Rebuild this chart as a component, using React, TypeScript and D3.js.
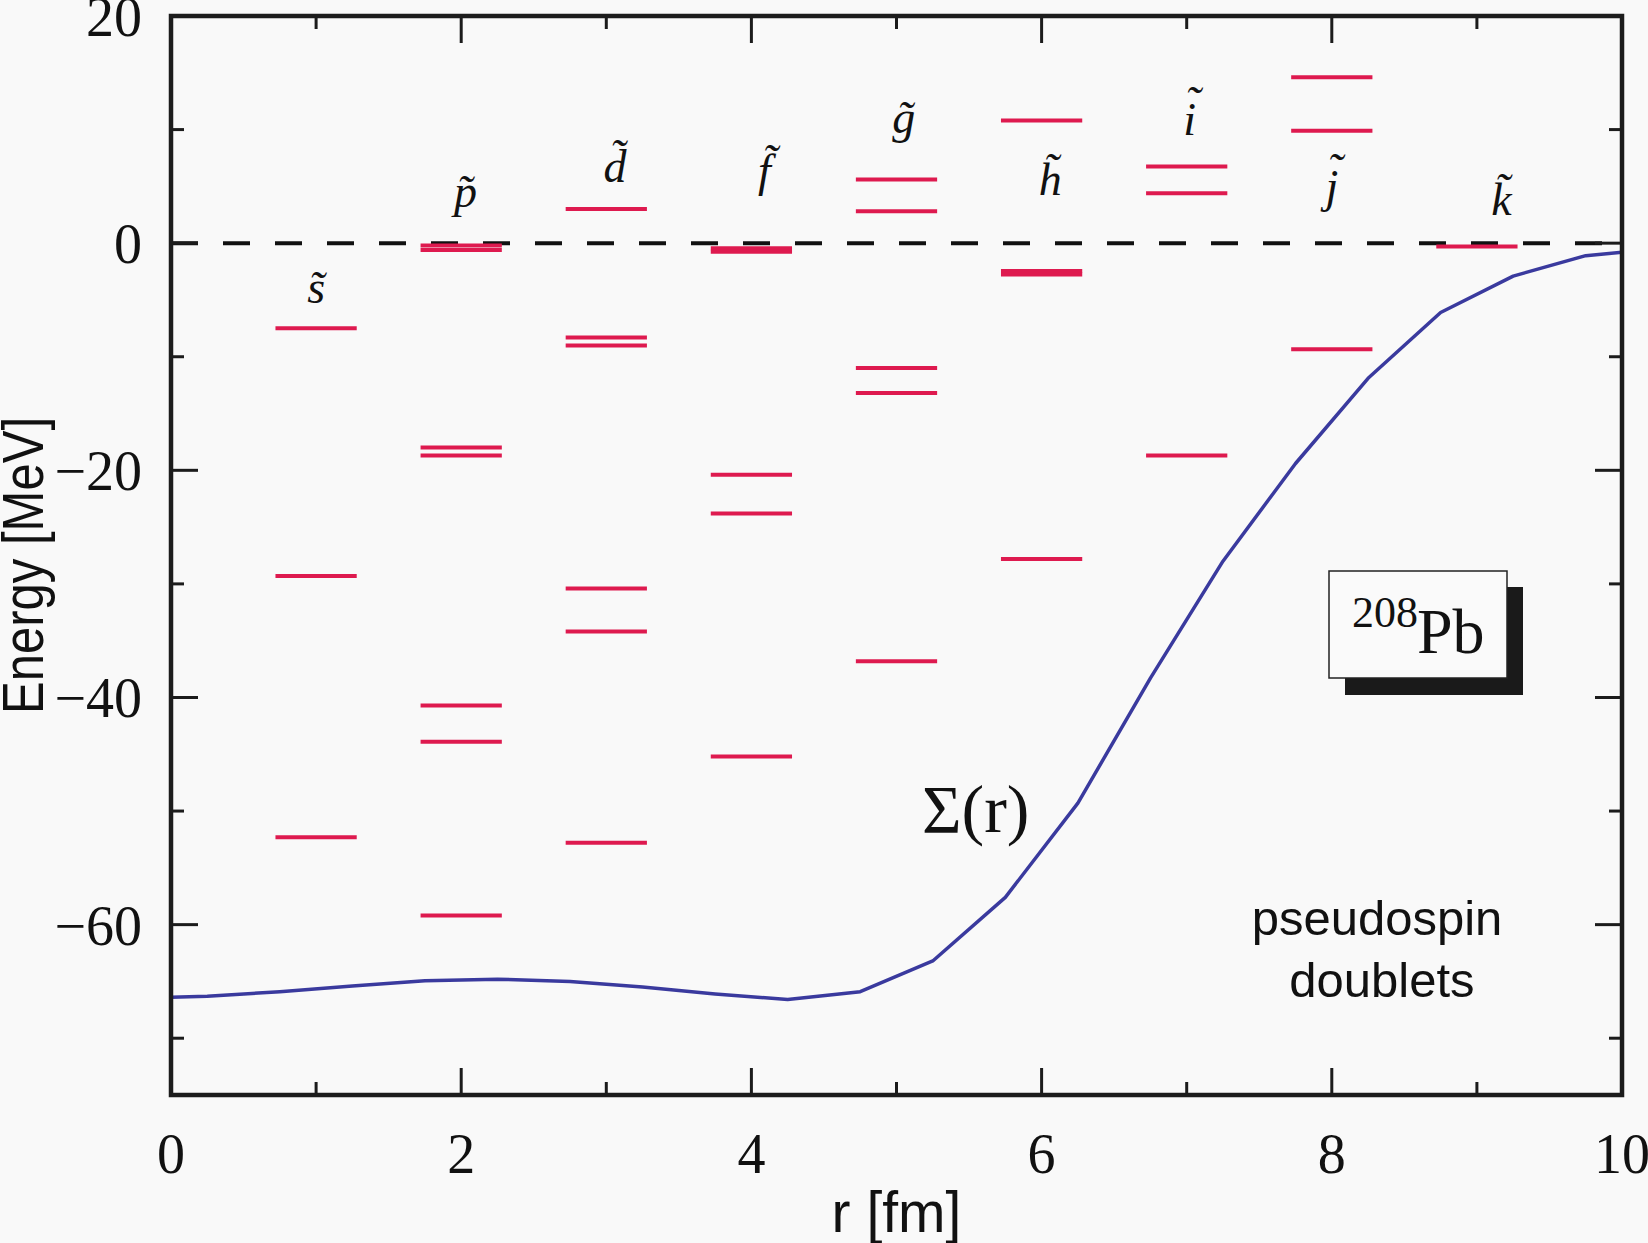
import React from "react";
import * as d3 from "d3";

const WIDTH = 1648;
const HEIGHT = 1243;
const MARGIN = { top: 16, right: 26, bottom: 148, left: 171 };
const LEVEL_HALF = 0.28;

// pseudospin partners, one column per orbital
const orbitals = ["s", "p", "d", "f", "g", "h", "i", "j", "k"];
const orbitalR = [1, 2, 3, 4, 5, 6, 7, 8, 9];
const sLevels = [-7.5, -29.3, -52.3];
const pLevels = [-0.2, -0.6, -18.0, -18.7, -40.7, -43.9, -59.2];
const dLevels = [3.0, -8.3, -9.0, -30.4, -34.2, -52.8];
const fLevels = [-0.45, -0.75, -20.4, -23.8, -45.2];
const gLevels = [5.6, 2.8, -11.0, -13.2, -36.8];
const hLevels = [10.8, -2.45, -2.75, -27.8];
const iLevels = [6.75, 4.4, -18.7];
const jLevels = [14.6, 9.9, -9.35];
const kLevels = [-0.3];
const allLevels = [sLevels, pLevels, dLevels, fLevels, gLevels, hLevels, iLevels, jLevels, kLevels];

// where the orbital names sit (r, energy of baseline)
const labelR = [1.0, 2.03, 3.06, 4.09, 5.05, 6.06, 7.02, 8.0, 9.17];
const labelE = [-5.3, 3.2, 5.4, 5.0, 9.7, 4.2, 9.5, 3.6, 2.5];

// Sigma(r) potential
const sigmaR = [0, 0.25, 0.75, 1.25, 1.75, 2.25, 2.75, 3.25, 3.75, 4.25, 4.75, 5.25, 5.75, 6.25, 6.75, 7.25, 7.75, 8.25, 8.75, 9.25, 9.75, 10];
const sigmaE = [-66.4, -66.3, -65.9, -65.4, -64.95, -64.8, -65.0, -65.5, -66.1, -66.6, -65.9, -63.2, -57.6, -49.3, -38.3, -28.0, -19.4, -11.9, -6.1, -2.9, -1.1, -0.8];

const xMajor = [0, 2, 4, 6, 8, 10];
const xMinor = [1, 3, 5, 7, 9];
const yMajor = [20, 0, -20, -40, -60];
const yMinor = [10, -10, -30, -50, -70];

const SERIF = "'Liberation Serif', 'Times New Roman', serif";
const SANS = "'Liberation Sans', Arial, sans-serif";
const INK = "#1c1c1c";

export default function App() {
  const x0 = MARGIN.left;
  const x1 = WIDTH - MARGIN.right;
  const y0 = MARGIN.top;
  const y1 = HEIGHT - MARGIN.bottom;

  const xScale = d3.scaleLinear().domain([0, 10]).range([x0, x1]);
  const yScale = d3.scaleLinear().domain([-75, 20]).range([y1, y0]);

  const sigmaLine = d3
    .line<number>()
    .x((d, i) => xScale(sigmaR[i]))
    .y((d) => yScale(d));

  const ticks: JSX.Element[] = [];
  const tick = (key: string, xa: number, ya: number, xb: number, yb: number) =>
    ticks.push(<line key={key} x1={xa} y1={ya} x2={xb} y2={yb} stroke={INK} strokeWidth={3} />);
  xMajor.forEach((v) => {
    tick("xb" + v, xScale(v), y1, xScale(v), y1 - 27);
    tick("xt" + v, xScale(v), y0, xScale(v), y0 + 27);
  });
  xMinor.forEach((v) => {
    tick("xbm" + v, xScale(v), y1, xScale(v), y1 - 13);
    tick("xtm" + v, xScale(v), y0, xScale(v), y0 + 13);
  });
  yMajor.forEach((v) => {
    tick("yl" + v, x0, yScale(v), x0 + 27, yScale(v));
    tick("yr" + v, x1, yScale(v), x1 - 27, yScale(v));
  });
  yMinor.forEach((v) => {
    tick("ylm" + v, x0, yScale(v), x0 + 13, yScale(v));
    tick("yrm" + v, x1, yScale(v), x1 - 13, yScale(v));
  });

  // i and j keep their dot, so the tilde is drawn on its own above them
  const dotted = (o: string) => o === "i" || o === "j";

  return (
    <svg
      width={WIDTH}
      height={HEIGHT}
      style={{ position: "absolute", left: 0, top: 0, display: "block" }}
    >
      <rect x={0} y={0} width={WIDTH} height={HEIGHT} fill="#f9f9f9" />

      {/* zero energy */}
      <line
        x1={x0}
        x2={x1}
        y1={yScale(0)}
        y2={yScale(0)}
        stroke="#111"
        strokeWidth={4}
        strokeDasharray="27 25"
      />

      {/* single particle levels */}
      {allLevels.map((levels, c) =>
        levels.map((e, k) => (
          <line
            key={c + "-" + k}
            x1={xScale(orbitalR[c] - LEVEL_HALF)}
            x2={xScale(orbitalR[c] + LEVEL_HALF)}
            y1={yScale(e)}
            y2={yScale(e)}
            stroke="#de1a4f"
            strokeWidth={4}
          />
        ))
      )}

      {orbitals.map((o, c) => (
        <g key={o}>
          <text
            x={xScale(labelR[c])}
            y={yScale(labelE[c])}
            textAnchor="middle"
            fontFamily={SERIF}
            fontStyle="italic"
            fontSize={46}
            fill="#111"
          >
            {dotted(o) ? o : o + "\u0303"}
          </text>
          {dotted(o) && (
            <text
              x={xScale(labelR[c]) + 3}
              y={yScale(labelE[c]) - 16}
              textAnchor="middle"
              fontFamily={SERIF}
              fontStyle="italic"
              fontSize={46}
              fill="#111"
            >
              {"\u02DC"}
            </text>
          )}
        </g>
      ))}

      <path d={sigmaLine(sigmaE) || ""} fill="none" stroke="#3a3a9e" strokeWidth={3.5} strokeLinejoin="round" />

      <text x={922} y={832} fontFamily={SERIF} fontSize={68} fill="#111">
        Σ(r)
      </text>

      {/* nucleus box */}
      <rect x={1345} y={587} width={178} height={108} fill="#1a1a1a" />
      <rect x={1329} y={571} width={178} height={107} fill="#fafafa" stroke="#222" strokeWidth={1.5} />
      <text x={1352} y={627} fontFamily={SERIF} fontSize={44} fill="#111">
        208
      </text>
      <text x={1417} y={653} fontFamily={SERIF} fontSize={64} fill="#111">
        Pb
      </text>

      <text x={1377} y={935} textAnchor="middle" fontFamily={SANS} fontSize={49} fill="#111">
        pseudospin
      </text>
      <text x={1382} y={997} textAnchor="middle" fontFamily={SANS} fontSize={49} fill="#111">
        doublets
      </text>

      {ticks}

      <rect
        x={x0}
        y={y0}
        width={x1 - x0}
        height={y1 - y0}
        fill="none"
        stroke={INK}
        strokeWidth={4.5}
      />

      {xMajor.map((v) => (
        <text
          key={"xl" + v}
          x={xScale(v)}
          y={1173}
          textAnchor="middle"
          fontFamily={SERIF}
          fontSize={56}
          fill="#111"
        >
          {v}
        </text>
      ))}
      {yMajor.map((v) => (
        <text
          key={"yl" + v}
          x={142}
          y={yScale(v) + 20}
          textAnchor="end"
          fontFamily={SERIF}
          fontSize={56}
          fill="#111"
        >
          {v < 0 ? "\u2212" + Math.abs(v) : v}
        </text>
      ))}

      <text x={(x0 + x1) / 2} y={1232} textAnchor="middle" fontFamily={SANS} fontSize={57} fill="#111">
        r [fm]
      </text>
      <text
        transform={`translate(43, ${(y0 + y1) / 2 + 10}) rotate(-90)`}
        textAnchor="middle"
        fontFamily={SANS}
        fontSize={58}
        textLength={297}
        lengthAdjust="spacingAndGlyphs"
        fill="#111"
      >
        Energy [MeV]
      </text>
    </svg>
  );
}
